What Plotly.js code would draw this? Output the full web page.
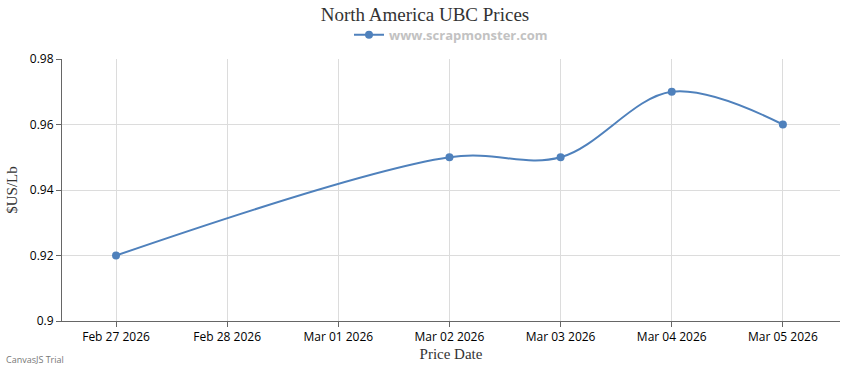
<!DOCTYPE html>
<html>
<head>
<meta charset="utf-8">
<script src="https://cdn.plot.ly/plotly-3.0.1.min.js"></script>
<style>html,body{margin:0;padding:0;background:#fff;}#chart{width:850px;height:370px;}</style>
</head>
<body>
<div id="chart"></div>
<script>
const dates = ["2026-02-27", "2026-03-02", "2026-03-03", "2026-03-04", "2026-03-05"];
const prices = [0.92, 0.95, 0.95, 0.97, 0.96];
const tickDates = ["2026-02-27", "2026-02-28", "2026-03-01", "2026-03-02", "2026-03-03", "2026-03-04", "2026-03-05"];
const tickLabels = ["Feb 27 2026", "Feb 28 2026", "Mar 01 2026", "Mar 02 2026", "Mar 03 2026", "Mar 04 2026", "Mar 05 2026"];
const yTicks = [0.9, 0.92, 0.94, 0.96, 0.98];
const yTickLabels = ["0.9", "0.92", "0.94", "0.96", "0.98"];

const trace = {
  x: dates, y: prices, type: "scatter", mode: "lines+markers",
  name: "<b>www.scrapmonster.com</b>",
  line: {color: "#4f81bc", width: 2, shape: "spline", smoothing: 1},
  marker: {color: "#4f81bc", size: 8, symbol: "circle"},
  hoverinfo: "x+y"
};

const layout = {
  width: 850, height: 370,
  margin: {l: 62, r: 10, t: 59, b: 49},
  paper_bgcolor: "#fff", plot_bgcolor: "#fff",
  font: {family: "Open Sans, DejaVu Sans, sans-serif", size: 12, color: "#000"},
  title: {text: "North America UBC Prices", x: 0.5, xanchor: "center", y: 0.978, yanchor: "top",
          font: {family: "Liberation Serif, Times New Roman, serif", size: 19, color: "#333"}},
  showlegend: true,
  legend: {orientation: "h", x: 0.5, xanchor: "center", y: 1.035, yanchor: "bottom",
           yref: "paper", font: {family: "Open Sans, DejaVu Sans, sans-serif", size: 13, color: "#c2c2c2"},
           bgcolor: "rgba(0,0,0,0)"},
  xaxis: {
    type: "date", range: ["2026-02-26 12:20", "2026-03-05 12:20"],
    tickmode: "array", tickvals: tickDates, ticktext: tickLabels,
    showgrid: true, gridcolor: "#dcdcdc", gridwidth: 1,
    showline: true, linecolor: "#666", linewidth: 1,
    ticks: "outside", ticklen: 5, tickcolor: "#666",
    tickfont: {size: 12, color: "#000"}, zeroline: false,
    title: {text: "Price Date", standoff: 4, font: {family: "Liberation Serif, Times New Roman, serif", size: 15, color: "#333"}}
  },
  yaxis: {
    range: [0.9, 0.98], tickmode: "array", tickvals: yTicks, ticktext: yTickLabels,
    showgrid: true, gridcolor: "#dcdcdc", gridwidth: 1,
    showline: true, linecolor: "#666", linewidth: 1,
    ticks: "outside", ticklen: 5, tickcolor: "#666",
    tickfont: {size: 12, color: "#000"}, zeroline: false,
    title: {text: "&#36;US/Lb", standoff: 8, font: {family: "Liberation Serif, Times New Roman, serif", size: 15, color: "#333"}}
  },
  annotations: [{
    text: "CanvasJS Trial", xref: "paper", yref: "paper", x: -0.075, y: -0.178,
    xanchor: "left", yanchor: "bottom", showarrow: false,
    font: {family: "Open Sans, DejaVu Sans, sans-serif", size: 9, color: "#777"}
  }]
};

Plotly.newPlot("chart", [trace], layout, {displayModeBar: false, staticPlot: true});
</script>
</body>
</html>
